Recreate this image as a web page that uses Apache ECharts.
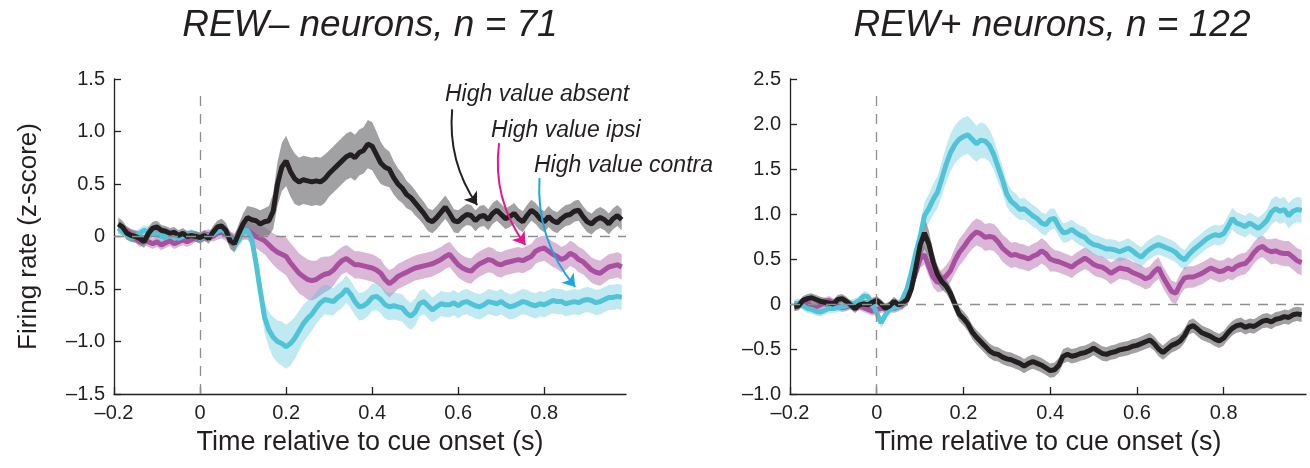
<!DOCTYPE html>
<html>
<head>
<meta charset="utf-8">
<script src="https://cdn.jsdelivr.net/npm/echarts@6.0.0/dist/echarts.min.js"></script>
<style>
html, body { margin: 0; padding: 0; background: #fff; }
#chart { width: 1310px; height: 468px; }
</style>
</head>
<body>
<div id="chart"></div>
<script>
var chart = echarts.init(document.getElementById('chart'));

var FONT = '"Liberation Sans", Arial, Helvetica, sans-serif';
var INK = '#231f20';

// 10 ms bins, -0.19 .. 0.98 s (118 samples)
var times = [];
for (var i = 0; i < 118; i++) times.push(Math.round((-0.19 + i * 0.01) * 100) / 100);

// ---- REW- neurons (left) : mean z-score ----
var leftAbsent = [
  0.12,0.09,0.03,0.01,0.00,-0.02,-0.05,0.03,0.08,0.09,
  0.06,0.05,0.03,0.04,0.01,0.03,0.00,0.01,0.00,-0.01,
  0.01,-0.02,0.04,0.09,0.10,0.06,-0.04,-0.07,0.03,0.12,
  0.18,0.16,0.15,0.12,0.14,0.15,0.24,0.50,0.66,0.72,
  0.62,0.55,0.52,0.54,0.53,0.52,0.53,0.52,0.55,0.60,
  0.64,0.68,0.72,0.76,0.78,0.75,0.80,0.82,0.88,0.86,
  0.78,0.70,0.66,0.64,0.56,0.50,0.46,0.40,0.37,0.32,
  0.27,0.22,0.16,0.14,0.18,0.23,0.28,0.22,0.15,0.14,
  0.18,0.21,0.20,0.15,0.19,0.20,0.16,0.22,0.25,0.21,
  0.17,0.19,0.22,0.17,0.14,0.20,0.25,0.22,0.17,0.14,
  0.19,0.15,0.13,0.17,0.20,0.21,0.24,0.25,0.19,0.14,
  0.12,0.16,0.18,0.16,0.12,0.17,0.20,0.16
];
var leftIpsi = [
  0.08,0.06,0.05,0.02,-0.01,-0.05,-0.03,-0.05,-0.07,-0.05,
  -0.08,-0.06,-0.04,-0.07,-0.05,-0.03,-0.05,-0.03,0.00,-0.02,
  0.01,0.02,0.00,0.03,0.04,0.02,-0.02,-0.04,0.00,0.05,
  0.06,0.03,0.00,-0.02,-0.04,-0.08,-0.12,-0.15,-0.17,-0.19,
  -0.25,-0.30,-0.35,-0.38,-0.41,-0.42,-0.41,-0.38,-0.36,-0.35,
  -0.32,-0.27,-0.23,-0.21,-0.24,-0.27,-0.27,-0.28,-0.29,-0.30,
  -0.32,-0.35,-0.41,-0.45,-0.42,-0.38,-0.36,-0.34,-0.32,-0.30,
  -0.29,-0.28,-0.27,-0.26,-0.24,-0.22,-0.19,-0.17,-0.22,-0.27,
  -0.30,-0.32,-0.33,-0.29,-0.26,-0.24,-0.22,-0.23,-0.26,-0.27,
  -0.25,-0.24,-0.23,-0.22,-0.23,-0.21,-0.19,-0.14,-0.12,-0.11,
  -0.14,-0.17,-0.19,-0.22,-0.20,-0.16,-0.18,-0.22,-0.24,-0.28,
  -0.32,-0.34,-0.35,-0.32,-0.29,-0.28,-0.27,-0.29
];
var leftContra = [
  0.08,0.05,0.02,-0.01,0.00,0.03,0.06,0.04,0.03,0.02,
  0.00,-0.01,0.01,0.00,-0.02,0.00,0.01,0.02,0.00,-0.02,
  0.00,0.01,0.02,0.05,0.07,0.04,-0.02,-0.08,-0.03,0.05,
  0.06,-0.02,-0.25,-0.52,-0.77,-0.89,-0.96,-1.00,-1.02,-1.05,
  -1.02,-0.97,-0.90,-0.83,-0.78,-0.74,-0.68,-0.63,-0.60,-0.61,
  -0.62,-0.58,-0.55,-0.50,-0.55,-0.62,-0.67,-0.66,-0.63,-0.58,
  -0.57,-0.60,-0.65,-0.67,-0.66,-0.67,-0.68,-0.73,-0.76,-0.72,
  -0.64,-0.62,-0.66,-0.70,-0.67,-0.64,-0.65,-0.65,-0.63,-0.66,
  -0.63,-0.62,-0.64,-0.66,-0.67,-0.65,-0.62,-0.63,-0.64,-0.62,
  -0.65,-0.67,-0.66,-0.64,-0.62,-0.63,-0.65,-0.66,-0.64,-0.65,
  -0.63,-0.61,-0.62,-0.62,-0.64,-0.63,-0.62,-0.63,-0.61,-0.60,
  -0.61,-0.63,-0.62,-0.60,-0.58,-0.58,-0.57,-0.58
];
// ---- REW- neurons : s.e.m. half width ----
var leftAbsentSem = [
  0.06,0.06,0.06,0.06,0.06,0.06,0.06,0.06,0.06,0.06,
  0.05,0.05,0.05,0.05,0.05,0.05,0.05,0.05,0.05,0.05,
  0.05,0.05,0.06,0.06,0.07,0.07,0.08,0.08,0.09,0.10,
  0.11,0.12,0.12,0.13,0.13,0.14,0.17,0.21,0.23,0.24,
  0.24,0.24,0.23,0.23,0.23,0.23,0.23,0.23,0.23,0.22,
  0.22,0.22,0.22,0.22,0.22,0.22,0.22,0.22,0.23,0.23,
  0.22,0.20,0.18,0.17,0.16,0.15,0.14,0.13,0.12,0.12,
  0.11,0.11,0.11,0.11,0.11,0.11,0.11,0.11,0.11,0.11,
  0.10,0.10,0.10,0.10,0.10,0.10,0.10,0.10,0.10,0.10,
  0.10,0.10,0.10,0.10,0.10,0.10,0.10,0.10,0.10,0.10,
  0.10,0.10,0.10,0.10,0.10,0.10,0.10,0.10,0.10,0.10,
  0.10,0.10,0.10,0.10,0.10,0.10,0.10,0.10
];
var leftIpsiSem = [
  0.05,0.05,0.05,0.05,0.05,0.05,0.05,0.05,0.05,0.05,
  0.05,0.05,0.05,0.05,0.05,0.05,0.05,0.05,0.05,0.05,
  0.05,0.05,0.05,0.06,0.06,0.06,0.07,0.07,0.08,0.08,
  0.09,0.10,0.11,0.12,0.13,0.14,0.15,0.16,0.17,0.18,
  0.19,0.19,0.19,0.19,0.19,0.19,0.18,0.18,0.17,0.16,
  0.15,0.14,0.13,0.13,0.13,0.13,0.13,0.13,0.13,0.13,
  0.13,0.13,0.13,0.13,0.12,0.12,0.12,0.12,0.12,0.12,
  0.12,0.12,0.12,0.12,0.12,0.12,0.12,0.12,0.12,0.12,
  0.12,0.12,0.12,0.12,0.12,0.12,0.12,0.12,0.12,0.12,
  0.12,0.12,0.12,0.12,0.12,0.12,0.12,0.12,0.12,0.12,
  0.12,0.12,0.12,0.12,0.12,0.12,0.12,0.12,0.12,0.12,
  0.12,0.12,0.12,0.12,0.12,0.12,0.12,0.12
];
var leftContraSem = [
  0.05,0.05,0.05,0.05,0.05,0.05,0.05,0.05,0.05,0.05,
  0.05,0.05,0.05,0.05,0.05,0.05,0.05,0.05,0.05,0.05,
  0.05,0.05,0.05,0.05,0.06,0.06,0.06,0.07,0.07,0.08,
  0.08,0.09,0.11,0.13,0.15,0.17,0.19,0.20,0.21,0.21,
  0.21,0.20,0.19,0.18,0.17,0.16,0.15,0.15,0.14,0.14,
  0.13,0.13,0.13,0.13,0.13,0.13,0.13,0.13,0.13,0.13,
  0.13,0.13,0.13,0.13,0.13,0.13,0.13,0.13,0.13,0.13,
  0.12,0.12,0.12,0.12,0.12,0.12,0.12,0.12,0.12,0.12,
  0.12,0.12,0.12,0.12,0.12,0.12,0.12,0.12,0.12,0.12,
  0.12,0.12,0.12,0.12,0.12,0.12,0.12,0.12,0.12,0.12,
  0.12,0.12,0.12,0.12,0.12,0.12,0.12,0.12,0.12,0.12,
  0.12,0.12,0.12,0.12,0.12,0.12,0.12,0.12
];

// ---- REW+ neurons (right) : mean z-score ----
var rightAbsent = [
  -0.03,-0.02,0.04,0.06,0.07,0.05,0.03,0.02,0.01,0.00,
  0.05,0.06,0.03,-0.01,-0.05,-0.01,0.00,-0.01,0.02,0.04,
  0.00,-0.05,-0.02,0.03,-0.01,0.01,0.05,0.17,0.40,0.65,
  0.79,0.67,0.47,0.33,0.25,0.20,0.12,0.00,-0.11,-0.16,
  -0.22,-0.31,-0.37,-0.42,-0.47,-0.52,-0.55,-0.56,-0.59,-0.61,
  -0.62,-0.64,-0.66,-0.69,-0.66,-0.64,-0.66,-0.68,-0.71,-0.74,
  -0.73,-0.68,-0.58,-0.56,-0.58,-0.57,-0.55,-0.54,-0.52,-0.49,
  -0.52,-0.55,-0.56,-0.54,-0.53,-0.51,-0.50,-0.49,-0.47,-0.46,
  -0.44,-0.42,-0.40,-0.44,-0.50,-0.54,-0.50,-0.46,-0.44,-0.41,
  -0.35,-0.26,-0.24,-0.28,-0.32,-0.34,-0.36,-0.39,-0.41,-0.38,
  -0.32,-0.27,-0.24,-0.23,-0.26,-0.24,-0.25,-0.22,-0.19,-0.18,
  -0.20,-0.17,-0.16,-0.14,-0.15,-0.12,-0.11,-0.12
];
var rightIpsi = [
  -0.02,-0.01,0.02,0.01,-0.02,-0.03,-0.01,0.02,0.04,0.01,
  -0.02,-0.04,-0.03,-0.01,-0.03,-0.02,-0.04,-0.06,-0.08,-0.06,
  -0.05,-0.04,-0.03,-0.05,-0.03,0.00,0.08,0.20,0.35,0.50,
  0.55,0.42,0.30,0.24,0.26,0.31,0.37,0.48,0.57,0.63,
  0.70,0.76,0.80,0.78,0.74,0.75,0.74,0.69,0.62,0.58,
  0.54,0.55,0.53,0.52,0.50,0.53,0.55,0.59,0.56,0.50,
  0.48,0.47,0.45,0.43,0.41,0.45,0.48,0.51,0.48,0.44,
  0.42,0.41,0.38,0.34,0.37,0.40,0.39,0.38,0.35,0.33,
  0.31,0.28,0.30,0.36,0.40,0.30,0.22,0.14,0.12,0.22,
  0.29,0.30,0.30,0.32,0.34,0.37,0.40,0.38,0.36,0.37,
  0.40,0.38,0.42,0.44,0.45,0.50,0.57,0.62,0.64,0.60,
  0.58,0.59,0.57,0.56,0.56,0.52,0.48,0.46
];
var rightContra = [
  0.00,0.01,-0.02,-0.05,-0.06,-0.08,-0.09,-0.07,-0.05,-0.05,
  -0.04,-0.03,-0.02,0.00,0.01,0.04,0.09,0.08,0.00,-0.10,
  -0.21,-0.12,-0.06,-0.04,-0.03,0.06,0.17,0.35,0.57,0.74,
  0.98,1.06,1.16,1.24,1.39,1.55,1.68,1.77,1.83,1.86,
  1.88,1.83,1.78,1.82,1.81,1.76,1.66,1.52,1.38,1.22,
  1.14,1.10,1.05,1.06,1.02,0.98,0.95,0.90,0.88,0.94,
  0.95,0.86,0.79,0.80,0.83,0.79,0.76,0.74,0.69,0.66,
  0.65,0.63,0.61,0.61,0.60,0.58,0.60,0.62,0.59,0.55,
  0.52,0.57,0.61,0.64,0.66,0.64,0.62,0.60,0.57,0.52,
  0.49,0.55,0.60,0.64,0.68,0.72,0.75,0.77,0.76,0.78,
  0.86,0.95,0.90,0.88,0.86,0.90,0.87,0.84,0.88,0.93,
  1.02,1.06,1.03,1.05,0.98,1.03,1.05,1.04
];
// ---- REW+ neurons : s.e.m. half width ----
var rightAbsentSem = [
  0.05,0.05,0.05,0.05,0.05,0.05,0.05,0.05,0.05,0.05,
  0.05,0.05,0.05,0.05,0.05,0.05,0.05,0.05,0.05,0.05,
  0.05,0.05,0.05,0.05,0.05,0.06,0.07,0.09,0.12,0.16,
  0.18,0.15,0.12,0.10,0.09,0.08,0.08,0.08,0.08,0.08,
  0.08,0.08,0.08,0.08,0.08,0.08,0.08,0.08,0.08,0.08,
  0.08,0.08,0.08,0.08,0.08,0.08,0.08,0.08,0.08,0.08,
  0.08,0.08,0.08,0.08,0.08,0.08,0.08,0.08,0.08,0.08,
  0.08,0.08,0.08,0.08,0.08,0.08,0.08,0.08,0.08,0.08,
  0.08,0.08,0.08,0.08,0.08,0.08,0.08,0.08,0.08,0.08,
  0.08,0.08,0.08,0.08,0.08,0.08,0.08,0.08,0.08,0.08,
  0.08,0.08,0.08,0.08,0.08,0.08,0.08,0.08,0.08,0.08,
  0.08,0.08,0.08,0.08,0.08,0.08,0.08,0.08
];
var rightIpsiSem = [
  0.05,0.05,0.05,0.05,0.05,0.05,0.05,0.05,0.05,0.05,
  0.05,0.05,0.05,0.05,0.05,0.05,0.05,0.05,0.05,0.05,
  0.05,0.05,0.05,0.05,0.05,0.06,0.07,0.08,0.09,0.10,
  0.11,0.11,0.11,0.11,0.12,0.12,0.13,0.14,0.15,0.15,
  0.15,0.15,0.15,0.15,0.15,0.15,0.15,0.15,0.15,0.15,
  0.14,0.14,0.14,0.14,0.14,0.14,0.14,0.14,0.14,0.14,
  0.12,0.12,0.12,0.12,0.12,0.12,0.12,0.12,0.12,0.12,
  0.12,0.12,0.12,0.12,0.12,0.12,0.12,0.12,0.12,0.12,
  0.12,0.12,0.12,0.12,0.12,0.12,0.12,0.12,0.12,0.12,
  0.12,0.12,0.12,0.12,0.12,0.12,0.12,0.12,0.12,0.12,
  0.12,0.12,0.12,0.12,0.12,0.12,0.12,0.12,0.12,0.12,
  0.14,0.14,0.14,0.14,0.14,0.14,0.14,0.14
];
var rightContraSem = [
  0.05,0.05,0.05,0.05,0.05,0.05,0.05,0.05,0.05,0.05,
  0.05,0.05,0.05,0.05,0.05,0.05,0.05,0.05,0.05,0.05,
  0.06,0.06,0.05,0.05,0.05,0.06,0.07,0.09,0.11,0.13,
  0.15,0.16,0.17,0.18,0.19,0.20,0.21,0.21,0.21,0.21,
  0.21,0.21,0.20,0.20,0.19,0.18,0.17,0.16,0.15,0.14,
  0.13,0.13,0.12,0.12,0.12,0.12,0.12,0.12,0.12,0.12,
  0.11,0.11,0.11,0.11,0.11,0.11,0.11,0.11,0.11,0.11,
  0.11,0.11,0.11,0.11,0.11,0.11,0.11,0.11,0.11,0.11,
  0.11,0.11,0.11,0.11,0.11,0.11,0.11,0.11,0.11,0.11,
  0.11,0.11,0.11,0.11,0.11,0.11,0.11,0.11,0.11,0.11,
  0.12,0.12,0.12,0.12,0.12,0.12,0.12,0.12,0.12,0.12,
  0.14,0.14,0.14,0.14,0.14,0.14,0.14,0.14
];

// annotation arrows, left panel, [time, z] start -> end
var arrowAbsent = [[0.586, 1.21], [0.644, 0.30]];
var arrowIpsi = [[0.695, 0.89], [0.756, -0.08]];
var arrowContra = [[0.789, 0.556], [0.872, -0.48]];

var colors = {
  absent: INK, absentBand: 'rgba(110,110,115,0.65)',
  ipsi: '#a8509f', ipsiBand: 'rgba(168,80,160,0.42)',
  contra: '#50c3d6', contraBand: 'rgba(80,195,215,0.36)'
};

function fmt(v) {
  if (Math.abs(v) < 1e-9) return '0';
  return (v < 0 ? '\u2013' : '') + Math.abs(v).toFixed(1);
}

function band(vals, sem, color, axis) {
  return {
    type: 'custom', xAxisIndex: axis, yAxisIndex: axis, silent: true, z: 1,
    data: vals.map(function (v, i) { return [times[i], v - sem[i], v + sem[i]]; }),
    encode: { x: 0, y: [1, 2] },
    renderItem: function (params, api) {
      if (params.dataIndex !== 0) return null;
      var top = [], bot = [];
      for (var k = 0; k < vals.length; k++) {
        top.push(api.coord([times[k], vals[k] + sem[k]]));
        bot.unshift(api.coord([times[k], vals[k] - sem[k]]));
      }
      return { type: 'polygon', shape: { points: top.concat(bot) }, style: { fill: color } };
    }
  };
}

function trace(vals, color, axis) {
  return {
    type: 'line', xAxisIndex: axis, yAxisIndex: axis, z: 2, silent: true,
    data: vals.map(function (v, i) { return [times[i], v]; }),
    showSymbol: false, symbol: 'none',
    lineStyle: { color: color, width: 5 }
  };
}

function zeroLines(axis, top, bottom) {
  return {
    type: 'line', xAxisIndex: axis, yAxisIndex: axis, data: [], z: 0,
    markLine: {
      silent: true, symbol: 'none', label: { show: false },
      lineStyle: { color: '#8e8e8e', type: [10, 8], width: 1.3 },
      data: [
        [{ coord: [-0.2, 0] }, { coord: [0.99, 0] }],
        [{ coord: [0, bottom] }, { coord: [0, top] }]
      ]
    }
  };
}

function arrow(path, color, curve) {
  return {
    type: 'lines', coordinateSystem: 'cartesian2d', xAxisIndex: 0, yAxisIndex: 0,
    silent: true, z: 5,
    symbol: ['none', 'arrow'], symbolSize: 12,
    lineStyle: { color: color, width: 2, opacity: 1, curveness: curve },
    data: [{ coords: path }]
  };
}

function xAxis(grid) {
  return {
    type: 'value', gridIndex: grid, min: -0.2, max: 0.99, interval: 0.2,
    axisLine: { show: true, onZero: false, lineStyle: { color: INK, width: 1.3 } },
    axisTick: { show: true, inside: true, length: 7, lineStyle: { color: INK, width: 1.3 } },
    axisLabel: { color: INK, fontSize: 20, fontFamily: FONT, margin: 9, showMaxLabel: false, formatter: fmt },
    splitLine: { show: false },
    name: 'Time relative to cue onset (s)', nameLocation: 'middle', nameGap: 35,
    nameTextStyle: { color: INK, fontSize: 27, fontFamily: FONT }
  };
}

function yAxis(grid, min, max, name) {
  return {
    type: 'value', gridIndex: grid, min: min, max: max, interval: 0.5,
    axisLine: { show: true, onZero: false, lineStyle: { color: INK, width: 1.3 } },
    axisTick: { show: true, inside: true, length: 7, lineStyle: { color: INK, width: 1.3 } },
    axisLabel: { color: INK, fontSize: 20, fontFamily: FONT, margin: 9, formatter: fmt },
    splitLine: { show: false },
    name: name, nameLocation: 'middle', nameGap: 72, nameRotate: 90,
    nameTextStyle: { color: INK, fontSize: 26, fontFamily: FONT }
  };
}

function label(text, x, y, size, align) {
  return {
    type: 'text', x: x, y: y, silent: true,
    style: {
      text: text, fill: INK, fontSize: size, fontStyle: 'italic', fontFamily: FONT,
      align: align, verticalAlign: 'middle'
    }
  };
}

var option = {
  backgroundColor: '#ffffff',
  animation: false,
  grid: [
    { left: 114, top: 79, width: 512, height: 315 },
    { left: 790, top: 79, width: 516, height: 315 }
  ],
  xAxis: [xAxis(0), xAxis(1)],
  yAxis: [yAxis(0, -1.5, 1.5, 'Firing rate (z-score)'), yAxis(1, -1, 2.5, '')],
  graphic: [
    label('REW\u2013 neurons, n = 71', 370, 26, 37, 'center'),
    label('REW+ neurons, n = 122', 1052, 26, 37, 'center'),
    label('High value absent', 445, 95, 23, 'left'),
    label('High value ipsi', 491, 131, 23, 'left'),
    label('High value contra', 534, 166, 23, 'left')
  ],
  series: [
    zeroLines(0, 1.38, -1.5),
    zeroLines(1, 2.34, -1),
    band(leftIpsi, leftIpsiSem, colors.ipsiBand, 0),
    band(leftContra, leftContraSem, colors.contraBand, 0),
    band(leftAbsent, leftAbsentSem, colors.absentBand, 0),
    trace(leftIpsi, colors.ipsi, 0),
    trace(leftContra, colors.contra, 0),
    trace(leftAbsent, colors.absent, 0),
    band(rightIpsi, rightIpsiSem, colors.ipsiBand, 1),
    band(rightContra, rightContraSem, colors.contraBand, 1),
    band(rightAbsent, rightAbsentSem, colors.absentBand, 1),
    trace(rightIpsi, colors.ipsi, 1),
    trace(rightContra, colors.contra, 1),
    trace(rightAbsent, colors.absent, 1),
    arrow(arrowAbsent, INK, -0.18),
    arrow(arrowIpsi, '#e5178f', -0.2),
    arrow(arrowContra, '#1aa7e1', -0.2)
  ]
};

chart.setOption(option);
</script>
</body>
</html>
